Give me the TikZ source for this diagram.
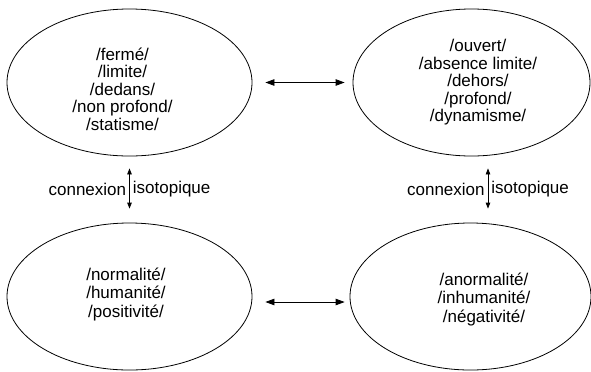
\documentclass[tikz,border=0pt]{standalone}
\usepackage{fontspec}
\setmainfont{Liberation Sans}
\usepackage{tikz}
\usetikzlibrary{shapes.geometric, arrows.meta}

\tikzset{
  sem/.style={ellipse, draw, line width=0.8bp, inner sep=0pt,
    minimum width=245bp, minimum height=147bp},
  txt/.style={inner sep=0pt, align=center, font=\fontsize{17bp}{17.5bp}\selectfont},
  txtb/.style={txt, font=\fontsize{17bp}{18.5bp}\selectfont},
  rel/.style={{Triangle[length=9bp,width=6.5bp]}-{Triangle[length=9bp,width=6.5bp]}, line width=0.8bp},
  iso/.style={{Triangle[length=6bp,width=4.5bp]}-{Triangle[length=6bp,width=4.5bp]}, line width=0.8bp},
  lab/.style={inner sep=3bp, font=\fontsize{17bp}{19.5bp}\selectfont}
}

\begin{document}
\begin{tikzpicture}[x=1bp, y=-1bp]
\useasboundingbox (0,0) rectangle (591,371);

\node[sem, label={[txt, xshift=-7bp, yshift=-6.5bp]center:{/fermé/\\/limite/\\/dedans/\\/non profond/\\/statisme/}}]
  (ferme) at (129.5, 82.5) {};
\node[sem, minimum width=237bp, label={[txt, xshift=6.5bp]center:{/ouvert/\\/absence limite/\\/dehors/\\/profond/\\/dynamisme/}}]
  (ouvert) at (471.5, 82.5) {};
\node[sem, label={[txtb, xshift=-3.5bp, yshift=2.5bp]center:{/normalité/\\/humanité/\\/positivité/}}]
  (normal) at (129.5, 296.5) {};
\node[sem, minimum width=241bp, label={[txtb, xshift=13.5bp, yshift=-2.5bp]center:{/anormalité/\\/inhumanité/\\/négativité/}}]
  (anormal) at (470.5, 296.5) {};

\draw[rel, shorten <=13bp, shorten >=8bp] (ferme.east) -- (ouvert.west);
\draw[rel, shorten <=13bp, shorten >=5bp] ([yshift=-5.5bp]normal.east) -- ([yshift=-5.5bp]anormal.west);

\draw[iso, shorten <=12bp, shorten >=14bp] (ferme.south) -- (normal.north)
  node[lab, midway, left] {connexion} node[lab, midway, right] {isotopique};
\draw[iso, shorten <=12bp, shorten >=14bp] ([xshift=16.5bp]ouvert.south) -- ([xshift=17.5bp]anormal.north)
  node[lab, midway, left] {connexion} node[lab, midway, right] {isotopique};
\end{tikzpicture}
\end{document}
